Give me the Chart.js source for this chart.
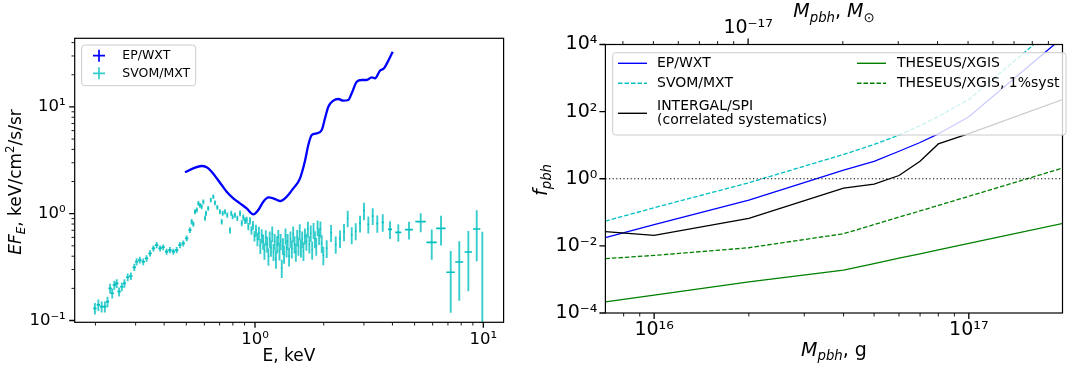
<!DOCTYPE html>
<html><head><meta charset="utf-8">
<script src="https://cdn.jsdelivr.net/npm/chart.js@4.4.1/dist/chart.umd.min.js"></script>
<style>
html,body{margin:0;padding:0;background:#fff;width:1067px;height:371px;overflow:hidden}
#w1{position:absolute;left:0;top:0;width:530px;height:371px}
#w2{position:absolute;left:530px;top:0;width:537px;height:371px}
canvas{display:block}
</style></head><body>
<div id="w1"><canvas id="c1" width="530" height="371"></canvas></div>
<div id="w2"><canvas id="c2" width="537" height="371"></canvas></div>
<script>
// ---------------- DATA ----------------
const MSUN_G = 1.989e33;

// Left panel: EP/WXT spectrum (keV, keV/cm2/s/sr)
const epEnergy = [0.4934,0.5366,0.584,0.6142,0.646,0.6797,0.7148,0.7516,0.8036,0.8597,0.9197,0.983,1.034,1.087,1.144,1.203,1.287,1.377,1.472,1.575,1.656,1.712,1.772,1.864,1.96,2.026,2.095,2.203,2.317,2.437,2.563,2.652,2.79,2.934,3.085,3.245,3.355,3.527,3.673,3.836,4.01];
const epFlux = [2.441,2.661,2.797,2.72,2.474,2.145,1.857,1.607,1.394,1.251,1.123,0.987,1.083,1.295,1.424,1.394,1.315,1.443,1.729,2.145,3.128,4.398,5.458,5.661,6.075,7.823,10.04,11.43,11.86,11.43,11.6,13.41,17.22,17.86,17.86,18.93,18.53,21.83,22.98,27.07,32.88];

// Left panel: SVOM/MXT spectrum
const svomEnergy = [0.199,0.206,0.213,0.220,0.226,0.232,0.237,0.242,0.248,0.254,0.261,0.268,0.277,0.286,0.296,0.303,0.313,0.324,0.335,0.347,0.359,0.371,0.384,0.396,0.410,0.424,0.439,0.454,0.469,0.485,0.502,0.519,0.528,0.537,0.546,0.556,0.565,0.574,0.584,0.594,0.604,0.610,0.624,0.640,0.657,0.668,0.684,0.702,0.715,0.722,0.739,0.756,0.777,0.787,0.798,0.817,0.837,0.860,0.875,0.889,0.905,0.920,0.935,0.951,0.965,0.980,0.995,1.010,1.025,1.040,1.055,1.070,1.085,1.100,1.115,1.130,1.145,1.160,1.175,1.190,1.205,1.220,1.235,1.250,1.265,1.280,1.295,1.310,1.325,1.340,1.360,1.375,1.390,1.410,1.430,1.450,1.470,1.490,1.510,1.530,1.550,1.570,1.590,1.610,1.630,1.655,1.680,1.705,1.730,1.755,1.780,1.805,1.830,1.855,1.880,1.910,1.935,1.960,1.992,2.061,2.154,2.257,2.357,2.454,2.547,2.652,2.761,2.884,3.002,3.136,3.278,3.433,3.627,3.902,4.243,4.727,5.318,5.944,6.527,7.198,7.848,8.600,9.357,9.900];
const svomEnergyErr = [0.0034,0.0035,0.0036,0.0037,0.0038,0.0039,0.0040,0.0041,0.0042,0.0043,0.0044,0.0045,0.0047,0.0048,0.0050,0.0051,0.0053,0.0055,0.0057,0.0059,0.0061,0.0063,0.0065,0.0067,0.0069,0.0072,0.0074,0.0077,0.0079,0.0082,0.0085,0.0088,0.0045,0.0045,0.0045,0.0045,0.0045,0.0045,0.0045,0.0045,0.0045,0.0045,0.0050,0.0050,0.0050,0.0050,0.0050,0.0050,0.0050,0.0050,0.0050,0.0050,0.0050,0.0050,0.0050,0.0050,0.0050,0.0060,0.0060,0.0060,0.0060,0.0060,0.0060,0.0060,0.0060,0.0060,0.0060,0.0060,0.0060,0.0060,0.0060,0.0060,0.0060,0.0060,0.0060,0.0060,0.0060,0.0060,0.0060,0.0060,0.0060,0.0060,0.0060,0.0060,0.0060,0.0060,0.0060,0.0060,0.0060,0.0060,0.0060,0.0070,0.0070,0.0070,0.0070,0.0070,0.0070,0.0070,0.0070,0.0070,0.0070,0.0070,0.0070,0.0070,0.0070,0.0070,0.0080,0.0080,0.0080,0.0080,0.0080,0.0080,0.0080,0.0080,0.0080,0.0080,0.0100,0.0100,0.0120,0.0120,0.0150,0.0150,0.0180,0.0180,0.0180,0.0200,0.0200,0.0220,0.0250,0.0250,0.0300,0.0300,0.0400,0.0800,0.1300,0.1900,0.2800,0.3100,0.3100,0.3100,0.3200,0.3200,0.3500,0.4100,0.3000];
const svomFlux = [0.130,0.140,0.135,0.135,0.150,0.200,0.180,0.215,0.223,0.186,0.207,0.223,0.254,0.261,0.315,0.355,0.368,0.355,0.382,0.426,0.474,0.509,0.474,0.485,0.441,0.457,0.441,0.457,0.509,0.528,0.588,0.704,0.842,0.800,1.044,1.083,1.251,1.200,1.163,1.295,0.910,1.009,1.123,1.344,1.443,1.268,1.148,1.044,0.842,1.009,1.044,0.972,0.700,1.009,0.937,0.972,0.906,1.009,0.820,0.925,0.860,0.873,0.760,0.860,0.700,0.780,0.620,0.700,0.580,0.660,0.500,0.620,0.550,0.450,0.600,0.520,0.400,0.580,0.480,0.650,0.440,0.550,0.380,0.520,0.600,0.450,0.550,0.310,0.500,0.420,0.620,0.480,0.550,0.400,0.580,0.470,0.650,0.520,0.440,0.600,0.500,0.680,0.480,0.580,0.450,0.620,0.550,0.720,0.520,0.660,0.460,0.700,0.580,0.500,0.740,0.620,0.720,0.528,0.410,0.474,0.664,0.517,0.588,0.678,0.906,0.632,0.689,0.813,1.067,0.796,0.952,0.813,0.831,0.714,0.670,0.708,0.842,0.540,0.730,0.283,0.353,0.438,0.719,0.070];
const svomFluxErr = [0.016,0.017,0.016,0.016,0.017,0.021,0.019,0.021,0.021,0.018,0.019,0.020,0.021,0.021,0.025,0.027,0.027,0.026,0.027,0.029,0.031,0.033,0.031,0.031,0.029,0.030,0.029,0.030,0.033,0.034,0.037,0.043,0.049,0.047,0.057,0.059,0.066,0.063,0.061,0.067,0.052,0.055,0.059,0.069,0.073,0.065,0.060,0.056,0.048,0.054,0.056,0.053,0.046,0.055,0.052,0.054,0.052,0.060,0.055,0.060,0.060,0.062,0.060,0.068,0.065,0.075,0.070,0.090,0.085,0.095,0.080,0.095,0.090,0.080,0.100,0.090,0.075,0.100,0.085,0.110,0.080,0.095,0.075,0.095,0.105,0.085,0.095,0.060,0.090,0.080,0.105,0.090,0.095,0.080,0.100,0.090,0.110,0.095,0.085,0.105,0.095,0.115,0.090,0.100,0.090,0.105,0.100,0.120,0.095,0.115,0.090,0.120,0.105,0.095,0.125,0.110,0.125,0.100,0.080,0.090,0.120,0.095,0.110,0.125,0.160,0.115,0.125,0.145,0.200,0.145,0.170,0.150,0.155,0.135,0.125,0.135,0.170,0.170,0.225,0.165,0.200,0.250,0.360,0.608];

// Right panel: f_pbh constraints vs M_pbh (g)
const massGrams = [7e15, 1e16, 2e16, 4e16, 5e16, 6e16, 7e16, 8e16, 1e17, 2e17];
const fEPWXT    = [0.0175, 0.0428, 0.231, 1.80, 3.3, 6.6, 12.0, 21.6, 70, 17000];
const fSVOMMXT  = [0.0547, 0.137, 0.76, 5.3, 10.5, 20, 38, 72, 229, 56000];
const fINTEGRAL = [0.0265, 0.0205, 0.066, 0.526, 0.69, 1.25, 3.34, 10.9, 22, 235];
const fTHESEUS  = [2.13e-4, 3.4e-4, 8.4e-4, 1.9e-3, 2.97e-3, 4.3e-3, 5.8e-3, 7.6e-3, 0.0118, 0.047];
const fTHESEUS1 = [0.00416, 0.0052, 0.0088, 0.023, 0.043, 0.072, 0.11, 0.16, 0.30, 2.12];
const unityLevel = [1, 1];

// Axis ranges
const leftXRange = [0.1623, 12.27];
const leftYRange = [0.0962, 43.9];
const rightXRange = [7.0e15, 1.985e17];
const rightYRange = [1e-4, 1e4];

// Tick values and labels
const leftXMajor = [1, 10];
const leftXMajorLabels = ['10⁰', '10¹'];
const leftXMinor = [0.2,0.3,0.4,0.5,0.6,0.7,0.8,0.9,2,3,4,5,6,7,8,9];
const leftYMajor = [0.1, 1, 10];
const leftYMajorLabels = ['10⁻¹', '10⁰', '10¹'];
const leftYMinor = [0.2,0.3,0.4,0.5,0.6,0.7,0.8,0.9,2,3,4,5,6,7,8,9,20,30,40];
const rightXMajor = [1e16, 1e17];
const rightXMajorLabels = ['10¹⁶', '10¹⁷'];
const rightXMinor = [8e15,9e15,2e16,3e16,4e16,5e16,6e16,7e16,8e16,9e16];
const rightYMajor = [1e-4, 1e-2, 1, 1e2, 1e4];
const rightYMajorLabels = ['10⁻⁴', '10⁻²', '10⁰', '10²', '10⁴'];
const rightYMinor = [];
const topMajor = [1e-17];
const topMajorLabels = ['10⁻¹⁷'];
const topMinor = [4e-18,5e-18,6e-18,7e-18,8e-18,9e-18,2e-17,3e-17,4e-17,5e-17,6e-17,7e-17,8e-17,9e-17];

// ---------------- HELPERS ----------------
const FAM = "'DejaVu Sans', sans-serif";
Chart.defaults.font.family = FAM;
Chart.defaults.color = '#000';

function tickList(major, minor) {
  return major.concat(minor).sort((a, b) => a - b).map(v => ({ value: v, major: major.includes(v) }));
}
function labeller(major, labels) {
  return function (v) {
    const i = major.findIndex(m => Math.abs(m - v) / m < 1e-6);
    return i >= 0 ? labels[i] : '';
  };
}
function richText(ctx, segs, cx, cy, size, rot) {
  const fontOf = s => (s.i ? 'italic ' : '') + ((s.sub || s.sup) ? size * 0.7 : size) + 'px ' + FAM;
  const widths = [];
  let w = 0;
  for (const s of segs) { ctx.font = fontOf(s); const ww = ctx.measureText(s.t).width; widths.push(ww); w += ww; }
  ctx.save();
  ctx.translate(cx, cy);
  if (rot) ctx.rotate(rot);
  ctx.textBaseline = 'alphabetic'; ctx.textAlign = 'left'; ctx.fillStyle = '#000';
  let x = -w / 2;
  const base = size * 0.36;
  segs.forEach((s, k) => {
    ctx.font = fontOf(s);
    const dy = s.sub ? size * 0.22 : (s.sup ? -size * 0.42 : 0);
    ctx.fillText(s.t, x, base + dy);
    x += widths[k];
  });
  ctx.restore();
}
function roundRect(ctx, x, y, w, h, r) {
  ctx.beginPath();
  ctx.moveTo(x + r, y);
  ctx.arcTo(x + w, y, x + w, y + h, r);
  ctx.arcTo(x + w, y + h, x, y + h, r);
  ctx.arcTo(x, y + h, x, y, r);
  ctx.arcTo(x, y, x + w, y, r);
  ctx.closePath();
}
function framePlugin(specs, majLen, minLen) {
  return {
    id: 'frame',
    afterDraw(chart) {
      const { ctx, chartArea: a } = chart;
      ctx.save();
      ctx.strokeStyle = '#000';
      for (const sp of specs) {
        const s = chart.scales[sp.scale];
        const all = [[sp.major, majLen, 1.3], [sp.minor, minLen, 0.9]];
        for (const [vals, len, lw] of all) {
          ctx.lineWidth = lw;
          ctx.beginPath();
          for (const v of vals) {
            const p = s.getPixelForValue(v);
            if (sp.side === 'bottom') { ctx.moveTo(p, a.bottom); ctx.lineTo(p, a.bottom + len); }
            else if (sp.side === 'top') { ctx.moveTo(p, a.top); ctx.lineTo(p, a.top - len); }
            else { ctx.moveTo(a.left, p); ctx.lineTo(a.left - len, p); }
          }
          ctx.stroke();
        }
      }
      ctx.lineWidth = 1.2;
      ctx.strokeRect(a.left, a.top, a.right - a.left, a.bottom - a.top);
      ctx.restore();
    }
  };
}
function titlePlugin(items) {
  return {
    id: 'titles',
    afterDraw(chart) {
      const ctx = chart.ctx;
      for (const it of items) richText(ctx, it.segs, it.x, it.y, it.size, it.rot || 0);
    }
  };
}
function legendPlugin(box, entries, fontSize) {
  return {
    id: 'customLegend',
    afterDraw(chart) {
      const ctx = chart.ctx;
      ctx.save();
      roundRect(ctx, box.x, box.y, box.w, box.h, 3);
      ctx.fillStyle = 'rgba(255,255,255,0.8)';
      ctx.fill();
      ctx.strokeStyle = '#cccccc'; ctx.lineWidth = 1;
      ctx.stroke();
      for (const e of entries) {
        ctx.strokeStyle = e.color;
        if (e.kind === 'cross') {
          ctx.lineWidth = 1.7;
          ctx.beginPath();
          ctx.moveTo(e.hx - 6, e.hy); ctx.lineTo(e.hx + 6, e.hy);
          ctx.moveTo(e.hx, e.hy - 6); ctx.lineTo(e.hx, e.hy + 6);
          ctx.stroke();
        } else {
          ctx.lineWidth = 1.4;
          ctx.setLineDash(e.dash || []);
          ctx.beginPath();
          ctx.moveTo(e.hx, e.hy); ctx.lineTo(e.hx + e.hw, e.hy);
          ctx.stroke();
          ctx.setLineDash([]);
        }
        ctx.fillStyle = '#000';
        ctx.font = fontSize + 'px ' + FAM;
        ctx.textBaseline = 'middle'; ctx.textAlign = 'left';
        e.lines.forEach((t, k) => ctx.fillText(t, e.tx, e.ty[k]));
      }
      ctx.restore();
    }
  };
}
const errorBarPlugin = {
  id: 'errbars',
  beforeDatasetsDraw(chart) {
    const { ctx, chartArea: a, scales: { x, y } } = chart;
    ctx.save();
    ctx.beginPath(); ctx.rect(a.left, a.top, a.right - a.left, a.bottom - a.top); ctx.clip();
    ctx.lineWidth = 1.9;
    ctx.strokeStyle = 'rgba(0,191,191,0.78)';
    ctx.beginPath();
    for (let i = 0; i < svomEnergy.length; i++) {
      const px = x.getPixelForValue(svomEnergy[i]);
      const lo = svomFlux[i] - svomFluxErr[i];
      const y1 = lo > 0 ? y.getPixelForValue(lo) : a.bottom + 20;
      const y2 = y.getPixelForValue(svomFlux[i] + svomFluxErr[i]);
      ctx.moveTo(px, y1); ctx.lineTo(px, y2);
    }
    ctx.stroke();
    ctx.strokeStyle = '#00bfbf';
    ctx.lineWidth = 1.7;
    ctx.beginPath();
    for (let i = 0; i < svomEnergy.length; i++) {
      const py = y.getPixelForValue(svomFlux[i]);
      const x1 = x.getPixelForValue(svomEnergy[i] - svomEnergyErr[i]);
      const x2 = x.getPixelForValue(svomEnergy[i] + svomEnergyErr[i]);
      ctx.moveTo(x1, py); ctx.lineTo(x2, py);
    }
    ctx.stroke();
    ctx.restore();
  }
};
function logAxis(opts) {
  return {
    type: 'logarithmic', position: opts.position, min: opts.range[0], max: opts.range[1], bounds: 'data',
    axis: opts.axis,
    grid: { display: false, drawTicks: false }, border: { display: false },
    ticks: { autoSkip: false, maxRotation: 0, minRotation: 0, padding: opts.pad, color: '#000',
             font: { size: opts.font, family: FAM }, callback: labeller(opts.major, opts.labels) },
    afterBuildTicks: s => { s.ticks = tickList(opts.major, opts.minor); },
    afterFit: s => { if (opts.height !== undefined) s.height = opts.height; if (opts.width !== undefined) s.width = opts.width; }
  };
}

// ---------------- LEFT CHART ----------------
new Chart(document.getElementById('c1'), {
  type: 'scatter',
  data: { datasets: [
    { label: 'EP/WXT', data: epEnergy.map((e, i) => ({ x: e, y: epFlux[i] })), showLine: true,
      borderColor: '#0000ff', backgroundColor: '#0000ff', borderWidth: 2.3, pointRadius: 0,
      cubicInterpolationMode: 'monotone' },
    { label: 'SVOM/MXT', data: svomEnergy.map((e, i) => ({ x: e, y: svomFlux[i] })), showLine: false,
      borderColor: '#00bfbf', backgroundColor: '#00bfbf', pointRadius: 0 }
  ] },
  options: {
    responsive: false, animation: false, devicePixelRatio: 1,
    layout: { padding: { top: 38.3, right: 26.4, left: 0, bottom: 0 } },
    plugins: { legend: { display: false }, tooltip: { enabled: false } },
    scales: {
      x: logAxis({ position: 'bottom', axis: 'x', range: leftXRange, major: leftXMajor, labels: leftXMajorLabels, minor: leftXMinor, pad: 8, font: 16.5, height: 48.7 }),
      y: logAxis({ position: 'left', axis: 'y', range: leftYRange, major: leftYMajor, labels: leftYMajorLabels, minor: leftYMinor, pad: 9, font: 16.5, width: 74.7 })
    }
  },
  plugins: [
    errorBarPlugin,
    framePlugin([{ scale: 'x', side: 'bottom', major: leftXMajor, minor: leftXMinor },
                 { scale: 'y', side: 'left', major: leftYMajor, minor: leftYMinor }], 5.5, 3.2),
    legendPlugin({ x: 81.7, y: 45, w: 114, h: 40.7 }, [
      { kind: 'cross', color: '#0000ff', hx: 99, hy: 55.7, lines: ['EP/WXT'], tx: 122.3, ty: [55.7] },
      { kind: 'cross', color: 'rgba(0,191,191,0.8)', hx: 99, hy: 73.3, lines: ['SVOM/MXT'], tx: 122.3, ty: [73.3] }
    ], 12.5),
    titlePlugin([
      { segs: [{ t: 'E, keV' }], x: 289, y: 355, size: 17 },
      { segs: [{ t: 'EF', i: 1 }, { t: 'E', i: 1, sub: 1 }, { t: ', keV/cm' }, { t: '2', sup: 1 }, { t: '/s/sr' }], x: 15, y: 182, size: 17, rot: -Math.PI / 2 }
    ])
  ]
});

// ---------------- RIGHT CHART ----------------
const lineSet = (label, vals, color, dash) => ({
  label, data: massGrams.map((m, i) => ({ x: m, y: vals[i] })), showLine: true, borderColor: color,
  backgroundColor: color, borderWidth: 1.3, borderDash: dash || [], pointRadius: 0, tension: 0
});
new Chart(document.getElementById('c2'), {
  type: 'scatter',
  data: { datasets: [
    { label: 'f = 1', data: [{ x: massGrams[0], y: unityLevel[0] }, { x: massGrams[massGrams.length - 1], y: unityLevel[1] }],
      showLine: true, borderColor: '#000', borderWidth: 1.1, borderDash: [1.2, 2.4], pointRadius: 0 },
    lineSet('THESEUS/XGIS, 1%syst', fTHESEUS1, '#008000', [4.5, 2]),
    lineSet('THESEUS/XGIS', fTHESEUS, '#008000'),
    lineSet('INTERGAL/SPI (correlated systematics)', fINTEGRAL, '#000000'),
    lineSet('SVOM/MXT', fSVOMMXT, '#00bfbf', [4.5, 2]),
    lineSet('EP/WXT', fEPWXT, '#0000ff')
  ] },
  options: {
    responsive: false, animation: false, devicePixelRatio: 1,
    layout: { padding: { top: 0, right: 4.5, left: 0, bottom: 0 } },
    plugins: { legend: { display: false }, tooltip: { enabled: false } },
    scales: {
      x: logAxis({ position: 'bottom', axis: 'x', range: rightXRange, major: rightXMajor, labels: rightXMajorLabels, minor: rightXMinor, pad: 6, font: 19, height: 58 }),
      x2: logAxis({ position: 'top', axis: 'x', range: [rightXRange[0] / MSUN_G, rightXRange[1] / MSUN_G], major: topMajor, labels: topMajorLabels, minor: topMinor, pad: 5, font: 19, height: 44.5 }),
      y: logAxis({ position: 'left', axis: 'y', range: rightYRange, major: rightYMajor, labels: rightYMajorLabels, minor: rightYMinor, pad: 8, font: 19, width: 75.4 })
    }
  },
  plugins: [
    framePlugin([{ scale: 'x', side: 'bottom', major: rightXMajor, minor: rightXMinor },
                 { scale: 'x2', side: 'top', major: topMajor, minor: topMinor },
                 { scale: 'y', side: 'left', major: rightYMajor, minor: rightYMinor }], 6, 3.5),
    legendPlugin({ x: 82.7, y: 52.7, w: 453.3, h: 82.3 }, [
      { kind: 'line', color: '#0000ff', hx: 88, hw: 29, hy: 63.3, lines: ['EP/WXT'], tx: 127, ty: [63.3] },
      { kind: 'line', color: '#00bfbf', dash: [4.5, 2], hx: 88, hw: 29, hy: 83.3, lines: ['SVOM/MXT'], tx: 127, ty: [83.3] },
      { kind: 'line', color: '#000000', hx: 88, hw: 29, hy: 113.3, lines: ['INTERGAL/SPI', '(correlated systematics)'], tx: 127, ty: [106, 120.7] },
      { kind: 'line', color: '#008000', hx: 327, hw: 29, hy: 63.3, lines: ['THESEUS/XGIS'], tx: 367, ty: [63.3] },
      { kind: 'line', color: '#008000', dash: [4.5, 2], hx: 327, hw: 29, hy: 83.3, lines: ['THESEUS/XGIS, 1%syst'], tx: 367, ty: [83.3] }
    ], 14),
    titlePlugin([
      { segs: [{ t: 'M', i: 1 }, { t: 'pbh', i: 1, sub: 1 }, { t: ', g' }], x: 304, y: 349, size: 19 },
      { segs: [{ t: 'M', i: 1 }, { t: 'pbh', i: 1, sub: 1 }, { t: ', ' }, { t: 'M', i: 1 }, { t: '⊙', sub: 1 }], x: 304, y: 10.5, size: 19 },
      { segs: [{ t: 'f', i: 1 }, { t: 'pbh', i: 1, sub: 1 }], x: 10, y: 180, size: 19, rot: -Math.PI / 2 }
    ])
  ]
});
</script></body></html>
